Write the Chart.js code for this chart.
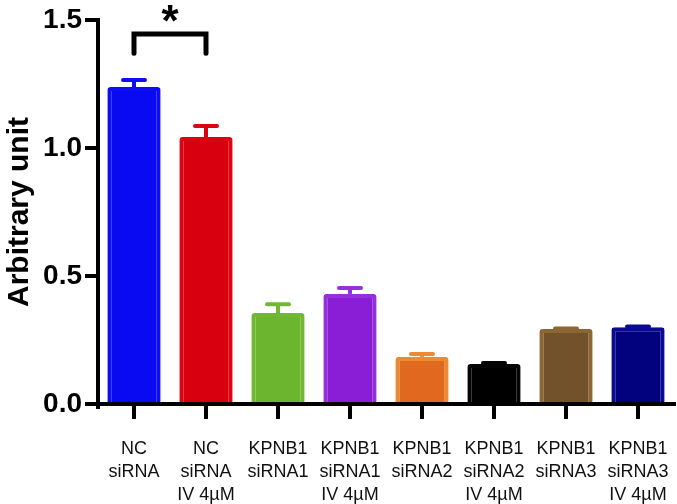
<!DOCTYPE html>
<html lang="en">
<head>
    <meta charset="UTF-8">
    <title>Arbitrary unit</title>
    <script src="https://cdn.jsdelivr.net/npm/chart.js"></script>
    <style>
        html, body { margin: 0; padding: 0; background: #fff; }
        .wrap { width: 677px; height: 504px; }
    </style>
</head>
<body>
    <div class="wrap"><canvas id="plot"></canvas></div>

    <script>
        // groups
        const labels = [
            ['NC', 'siRNA'],
            ['NC', 'siRNA', 'IV 4\u00b5M'],
            ['KPNB1', 'siRNA1'],
            ['KPNB1', 'siRNA1', 'IV 4\u00b5M'],
            ['KPNB1', 'siRNA2'],
            ['KPNB1', 'siRNA2', 'IV 4\u00b5M'],
            ['KPNB1', 'siRNA3'],
            ['KPNB1', 'siRNA3', 'IV 4\u00b5M']
        ];
        const means = [1.238, 1.043, 0.355, 0.430, 0.184, 0.156, 0.293, 0.300];
        const errors = [0.028, 0.043, 0.035, 0.023, 0.011, 0.004, 0.002, 0.003];
        const yTicks = [0, 0.5, 1.0, 1.5];

        const fillColors = ['#0a0af2', '#d8000f', '#6bb52f', '#8a1ed6', '#e0691f', '#000000', '#72522a', '#02027e'];
        const edgeColors = ['#0e0ef4', '#da0412', '#70b834', '#9630dd', '#eb8a30', '#050505', '#8c6633', '#0a0a92'];

        // significance bracket between group 0 and 1
        const sigFrom = 0, sigTo = 1;
        const sigTop = 1.445, sigLeg = 1.37;
        const sigText = '*';

        const errorBars = {
            id: 'errorBars',
            afterDatasetsDraw(chart) {
                const ctx = chart.ctx;
                const y = chart.scales.y;
                const meta = chart.getDatasetMeta(0);
                ctx.save();
                meta.data.forEach((bar, i) => {
                    const top = y.getPixelForValue(means[i] + errors[i]);
                    const base = y.getPixelForValue(means[i]);
                    ctx.strokeStyle = edgeColors[i];
                    ctx.lineWidth = 4;
                    ctx.lineCap = 'butt';
                    ctx.beginPath();
                    ctx.moveTo(bar.x, base);
                    ctx.lineTo(bar.x, top);
                    ctx.stroke();
                    ctx.lineCap = 'round';
                    ctx.beginPath();
                    ctx.moveTo(bar.x - 11, top);
                    ctx.lineTo(bar.x + 11, top);
                    ctx.stroke();
                });

                // bracket + star
                const x0 = chart.scales.x.getPixelForValue(sigFrom);
                const x1 = chart.scales.x.getPixelForValue(sigTo);
                const yt = y.getPixelForValue(sigTop);
                const yl = y.getPixelForValue(sigLeg);
                ctx.strokeStyle = '#000';
                ctx.lineWidth = 5;
                ctx.lineCap = 'round';
                ctx.lineJoin = 'miter';
                ctx.beginPath();
                ctx.moveTo(x0, yl);
                ctx.lineTo(x0, yt);
                ctx.lineTo(x1, yt);
                ctx.lineTo(x1, yl);
                ctx.stroke();
                ctx.fillStyle = '#000';
                ctx.font = 'bold 44px "Liberation Sans", Arial, sans-serif';
                ctx.textAlign = 'center';
                ctx.textBaseline = 'top';
                ctx.fillText(sigText, (x0 + x1) / 2, yt - 32);

                // short stub of the y axis below the x axis
                ctx.fillRect(chart.chartArea.left - 2, chart.chartArea.bottom, 4, 5);
                ctx.restore();
            }
        };

        const ctx = document.getElementById('plot').getContext('2d');
        new Chart(ctx, {
            type: 'bar',
            data: {
                labels: labels,
                datasets: [{
                    data: means,
                    backgroundColor: fillColors,
                    borderColor: edgeColors,
                    borderWidth: 4,
                    borderRadius: 3,
                    borderSkipped: 'start',
                    categoryPercentage: 1,
                    barPercentage: 0.74
                }]
            },
            options: {
                responsive: true,
                maintainAspectRatio: false,
                animation: false,
                layout: { padding: { top: 20, right: 3, left: 0, bottom: 0 } },
                plugins: { legend: { display: false }, tooltip: { enabled: false } },
                scales: {
                    x: {
                        offset: true,
                        grid: { offset: false, drawOnChartArea: false, drawTicks: true, tickLength: 15, lineWidth: 4, color: '#000' },
                        border: { display: true, width: 4, color: '#000' },
                        ticks: {
                            color: '#111',
                            padding: 19,
                            maxRotation: 0,
                            autoSkip: false,
                            font: { family: '"Liberation Sans", Arial, sans-serif', size: 18, lineHeight: 23 / 18 }
                        },
                        afterFit(scale) {
                            scale.height = 100;
                            scale.paddingLeft = 0;
                            scale.paddingRight = 0;
                        }
                    },
                    y: {
                        min: 0,
                        max: 1.5,
                        afterBuildTicks(scale) { scale.ticks = yTicks.map(v => ({ value: v })); },
                        grid: { drawOnChartArea: false, drawTicks: true, tickLength: 13, lineWidth: 4, color: '#000' },
                        border: { display: true, width: 4, color: '#000' },
                        ticks: {
                            color: '#000',
                            padding: 3,
                            callback: v => Number(v).toFixed(1),
                            font: { family: '"Liberation Sans", Arial, sans-serif', size: 28, weight: 'bold' }
                        },
                        title: {
                            display: true,
                            text: 'Arbitrary unit',
                            color: '#000',
                            padding: { top: 2, bottom: 4 },
                            font: { family: '"Liberation Sans", Arial, sans-serif', size: 30, weight: 'bold' }
                        },
                        afterFit(scale) {
                            scale.width = 98;
                            scale.paddingTop = 0;
                            scale.paddingBottom = 0;
                        }
                    }
                }
            },
            plugins: [errorBars]
        });
    </script>
</body>
</html>
